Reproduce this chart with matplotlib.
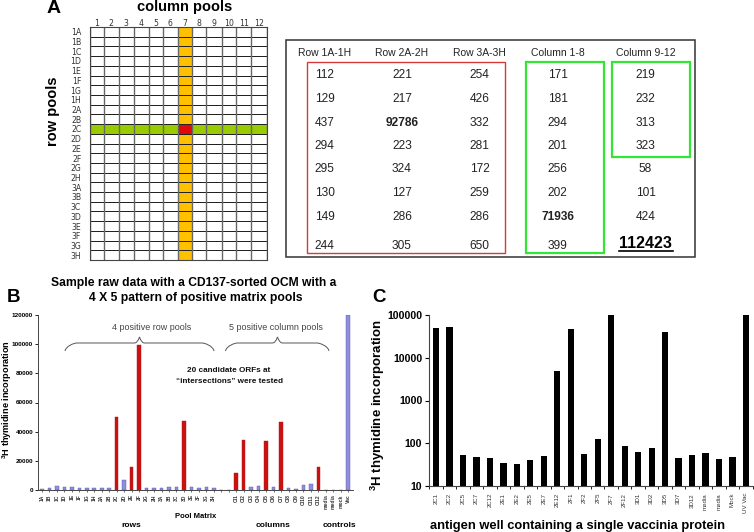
import matplotlib
matplotlib.use("Agg")
import matplotlib.pyplot as plt
from matplotlib.path import Path
from matplotlib.patches import PathPatch, Rectangle
from matplotlib.colors import ListedColormap
import numpy as np

plt.rcParams['font.family'] = ['Liberation Sans', 'DejaVu Sans']
plt.rcParams['mathtext.fontset'] = 'custom'
plt.rcParams['mathtext.rm'] = 'Liberation Sans:bold'
plt.rcParams['mathtext.default'] = 'rm'
W, H = 754, 532

# Panel A
row_pools = [f"{p}{c}" for p in "123" for c in "ABCDEFGH"]
col_pools = [str(i) for i in range(1, 13)]
col_edges_px = [89.5, 103.5, 118.5, 134, 148.5, 163, 177.7, 191.7, 206.3, 221.7, 236.3, 251, 266.7]
hit_row = "2C"
hit_col = "7"

# Table
table_headers = ["Row 1A-1H", "Row 2A-2H", "Row 3A-3H", "Column 1-8", "Column 9-12"]
table_cols = [
    ["112", "129", "437", "294", "295", "130", "149", "244"],
    ["221", "217", "92786", "223", "324", "127", "286", "305"],
    ["254", "426", "332", "281", "172", "259", "286", "650"],
    ["171", "181", "294", "201", "256", "202", "71936", "399"],
    ["219", "232", "313", "323", "58", "101", "424", "112423"],
]
bold_vals = {"92786", "71936"}

# Panel B
b_labels = row_pools + ["", ""] + [f"Cl{i}" for i in range(1, 13)] + ["media", "media", "mock", "Vac"]
b_values = [900, 1700, 3000, 1800, 2300, 1700, 1600, 1500, 1300, 1700, 50000, 7200, 15700, 99500,
            1700, 1400, 1600, 2000, 2200, 47500, 2300, 1600, 2200, 1700,
            0, 0,
            11500, 34400, 2300, 2500, 33500, 1800, 46500, 1400, 1000, 3200, 3800, 15800,
            300, 300, 300, 120000]
b_pos = {"2C", "2E", "2F", "3D", "Cl1", "Cl2", "Cl5", "Cl7", "Cl12"}
b_yticks = [0, 20000, 40000, 60000, 80000, 100000, 120000]

# Panel C
c_labels = ["2C1", "2C2", "2C5", "2C7", "2C12", "2E1", "2E2", "2E5", "2E7", "2E12", "2F1", "2F2",
            "2F5", "2F7", "2F12", "3D1", "3D2", "3D5", "3D7", "3D12", "media", "media", "Mock", "UV Vac"]
c_values = [51000, 53000, 54, 48, 44, 34, 32, 41, 51, 4800, 47000, 56,
            125, 100000, 85, 61, 76, 41000, 45, 52, 58, 43, 48, 98000]
c_yticks = [10, 100, 1000, 10000, 100000]

fig = plt.figure(figsize=(W / 100, H / 100), dpi=100, facecolor="white")


def axpx(l, t, r, b, **kw):
    return fig.add_axes([l / W, 1 - b / H, (r - l) / W, (b - t) / H], **kw)


# Overlay in pixel coordinates for annotations
ov = fig.add_axes([0, 0, 1, 1], zorder=5)
ov.set_xlim(0, W)
ov.set_ylim(H, 0)
ov.axis("off")
ov.patch.set_alpha(0)

# ---------- A
axA = axpx(89.5, 27, 266.7, 260)
ri = row_pools.index(hit_row)
ci = col_pools.index(hit_col)
cells = np.zeros((len(row_pools), len(col_pools)), dtype=int)
cells[ri, :] = 1
cells[:, ci] = 2
cells[ri, ci] = 3
axA.pcolormesh(col_edges_px, np.arange(len(row_pools) + 1), cells,
               cmap=ListedColormap(["white", "#99cc00", "#ffc000", "#e00808"]),
               vmin=0, vmax=3, edgecolors="#222222", linewidth=0.7)
axA.set_ylim(len(row_pools), 0)
axA.set_xlim(col_edges_px[0], col_edges_px[-1])
for i, e in enumerate(col_edges_px):
    axA.axvline(e, color="#666666", lw=1.0)
axA.xaxis.tick_top()
axA.set_xticks([(col_edges_px[i] + col_edges_px[i + 1]) / 2 for i in range(12)], col_pools,
               fontsize=5.6, color="#333333", family="DejaVu Sans")
axA.set_yticks(np.arange(len(row_pools)) + 0.5, row_pools, fontsize=5.6, color="#333333", family="DejaVu Sans")
axA.tick_params(axis="x", length=0, pad=-1)
axA.tick_params(axis="y", length=0, pad=6)
for s in axA.spines.values():
    s.set_color("#444444")
    s.set_linewidth(0.8)
ov.text(54, 8.5, "A", fontsize=14, fontweight="bold", ha="center", va="center")
ov.text(185, 6.5, "column pools", fontsize=10.5, fontweight="bold", ha="center", va="center")
ov.text(53, 111, "row pools", fontsize=10.5, fontweight="bold", rotation=90, ha="center", va="center")

# ---------- Table
ov.add_patch(Rectangle((285.5, 39.5), 409.5, 217.5, fc="white", ec="#333333", lw=1.1))
tab_x = [324.5, 402, 479.5, 557.5, 645.5]
tab_y = [75.5, 99, 122.5, 146, 169.5, 193, 216.5, 246]
for x, head, col in zip(tab_x, table_headers, table_cols):
    ov.text(x, 52.5, head, fontsize=7.5, ha="center", va="center", color="#222222")
    for y, v in zip(tab_y, col):
        if v == "112423":
            ov.text(x, 243, v, fontsize=11.5, fontweight="bold", ha="center", va="center", color="black")
            ov.plot([x - 27, x + 27], [250.5, 250.5], color="black", lw=1.2)
        else:
            ov.text(x, y, v, fontsize=8.6, ha="center", va="center", color="#222222",
                    fontweight="bold" if v in bold_vals else "normal")
ov.add_patch(Rectangle((306.5, 61.5), 198, 191, fc="none", ec="#d63a3a", lw=1.0))
ov.add_patch(Rectangle((525.5, 61.5), 78, 191, fc="none", ec="#33e633", lw=1.6))
ov.add_patch(Rectangle((612, 61.5), 77.5, 95.5, fc="none", ec="#33e633", lw=1.6))

# ---------- B
step = 7.47
b_left, b_right = 38, 353
axB = axpx(b_left, 315, b_right, 490)
x_b = np.arange(len(b_labels))
colors = []
for lab, val in zip(b_labels, b_values):
    colors.append("#cc1111" if lab in b_pos else "#8f8fdc")
axB.bar(x_b, b_values, width=0.48, color=colors, edgecolor=["#aa1111" if c == "#cc1111" else "#5555aa" for c in colors],
        linewidth=0.3)
axB.set_xlim(-(42 - b_left) / step, (b_right - 42) / step)
axB.set_ylim(0, 120000)
axB.set_yticks(b_yticks, [str(v) for v in b_yticks], fontsize=4.6, fontweight="bold")
axB.set_xticks(x_b, b_labels, rotation=90, fontsize=3.6, fontweight="bold", color="#333333")
axB.tick_params(axis="y", length=2.5, width=0.6, pad=1)
axB.tick_params(axis="x", length=1.5, width=0.4, pad=1.5)
axB.spines[["top", "right"]].set_visible(False)
for s in ("left", "bottom"):
    axB.spines[s].set_linewidth(0.7)
    axB.spines[s].set_color("#444444")
axB.patch.set_alpha(0)
ov.text(7, 400, r"$^{3}$H thymidine incorporation", fontsize=6.6, fontweight="bold", rotation=90, ha="center", va="center")
ov.text(13, 297, "B", fontsize=13.5, fontweight="bold", ha="center", va="center")
ov.text(194, 283, "Sample raw data with a CD137-sorted OCM with a", fontsize=8.7, fontweight="bold", ha="center", va="center")
ov.text(196, 298, "4 X 5 pattern of positive matrix pools", fontsize=8.7, fontweight="bold", ha="center", va="center")
ov.text(151.5, 328, "4 positive row pools", fontsize=6.5, ha="center", va="center", color="#444444")
ov.text(276, 328, "5 positive column pools", fontsize=6.5, ha="center", va="center", color="#444444")
ov.text(229, 371, "20 candidate ORFs at", fontsize=5.9, fontweight="bold", ha="center", va="center", color="#111111")
ov.text(229, 381.5, "\u201cintersections\u201d were tested", fontsize=5.9, fontweight="bold", ha="center", va="center", color="#111111")
ov.text(196, 517, "Pool Matrix", fontsize=5.5, fontweight="bold", ha="center", va="center")
ov.text(131, 525.5, "rows", fontsize=6, fontweight="bold", ha="center", va="center")
ov.text(273, 525.5, "columns", fontsize=6, fontweight="bold", ha="center", va="center")
ov.text(339, 525.5, "controls", fontsize=6, fontweight="bold", ha="center", va="center")


def brace(x0, x1, xm, ytop, ybot):
    pts = [(x0, ybot), (x0 + 1, ytop + 3), (x0 + 9, ytop), (x0 + 12, ytop),
           (xm - 5, ytop), (xm - 2, ytop), (xm, ytop - 6)]
    codes = [Path.MOVETO, Path.CURVE4, Path.CURVE4, Path.CURVE4, Path.LINETO, Path.CURVE3, Path.CURVE3]
    pts += [(xm + 2, ytop), (xm + 5, ytop), (x1 - 12, ytop), (x1 - 9, ytop), (x1 - 1, ytop + 3), (x1, ybot)]
    codes += [Path.CURVE3, Path.CURVE3, Path.LINETO, Path.CURVE4, Path.CURVE4, Path.CURVE4]
    ov.add_patch(PathPatch(Path(pts, codes), fc="none", ec="#555555", lw=0.7))


brace(65, 214, 139.5, 343, 351)
brace(225.5, 329, 277.5, 343, 351)

# ---------- C
axC = axpx(429.3, 315, 752.7, 486)
x_c = np.arange(len(c_labels))
axC.bar(x_c, c_values, width=0.46, color="black", bottom=0)
axC.set_yscale("log")
axC.set_ylim(10, 100000)
axC.set_xlim(-0.5, len(c_labels) - 0.5)
axC.set_yticks(c_yticks, [str(v) for v in c_yticks], fontsize=7.6, fontweight="bold")
axC.minorticks_off()
axC.set_xticks(np.arange(len(c_labels) + 1) - 0.5, minor=False)
axC.set_xticklabels([])
axC.set_xticks(x_c, c_labels, rotation=90, fontsize=4.4, color="#333333", minor=True)
axC.tick_params(axis="y", which="major", length=3, width=0.8, pad=2)
axC.tick_params(axis="x", which="major", length=2.5, width=0.6)
axC.tick_params(axis="x", which="minor", length=0, pad=5)
axC.spines[["top", "right"]].set_visible(False)
for s in ("left", "bottom"):
    axC.spines[s].set_linewidth(0.8)
    axC.spines[s].set_color("#444444")
axC.patch.set_alpha(0)
ov.text(378, 405, r"$^{3}$H thymidine incorporation", fontsize=9.5, fontweight="bold", rotation=90, ha="center", va="center")
ov.text(379, 297, "C", fontsize=13.5, fontweight="bold", ha="center", va="center")
ov.text(577, 526, "antigen well containing a single vaccinia protein", fontsize=9.3, fontweight="bold", ha="center", va="center")

fig.savefig("out.png", dpi=100)
